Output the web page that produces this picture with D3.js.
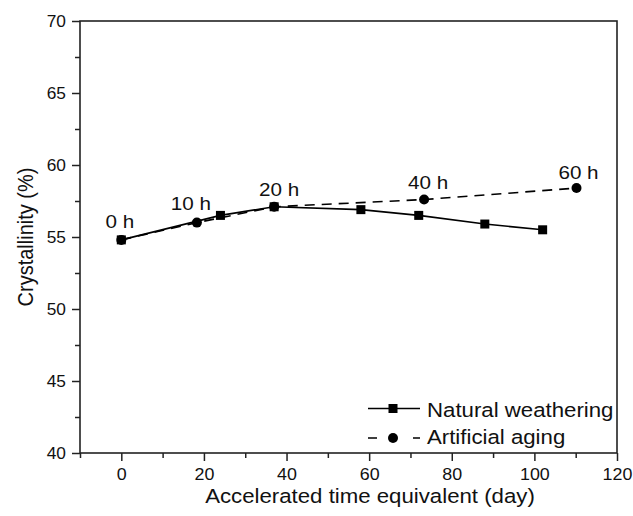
<!DOCTYPE html>
<html><head><meta charset="utf-8">
<script src="https://cdn.jsdelivr.net/npm/d3@7"></script>
<style>body{margin:0;background:#fff}svg{display:block}text{font-family:"Liberation Sans",Arial,sans-serif;fill:#111}</style>
</head><body><svg id="c" width="633" height="516"></svg>
<script>
const naturalX = [0, 24, 37, 58, 72, 88, 102];
const naturalY = [54.8, 56.5, 57.1, 56.9, 56.5, 55.9, 55.5];
const artificialX = [0, 18.3, 37, 73.3, 110.2];
const artificialY = [54.8, 56.0, 57.1, 57.6, 58.4];
const artificialLabels = ["0 h", "10 h", "20 h", "40 h", "60 h"];
const xTicks = [0, 20, 40, 60, 80, 100, 120];
const yTicks = [40, 45, 50, 55, 60, 65, 70];
const seriesNames = ["Natural weathering", "Artificial aging"];

const svg = d3.select("#c");
const L = 80, R = 617, T = 21, B = 453;
const x = d3.scaleLinear().domain([-10, 120]).range([L, R]);
const y = d3.scaleLinear().domain([40, 70]).range([B, T]);
const ink = "#222";

function stretch(sel, sx) {
  sel.each(function () {
    const t = d3.select(this);
    const ax = +t.attr("x") || 0, ay = +t.attr("y") || 0;
    t.attr("transform", `translate(${ax},${ay}) scale(${sx},1) translate(${-ax},${-ay})`);
  });
}

const xMinor = d3.range(-10, 121, 10).filter(v => v % 20 !== 0);
const yMinor = d3.range(42.5, 70, 5);

const xa = svg.append("g").attr("transform", `translate(0,${B})`)
  .call(d3.axisBottom(x).tickValues(xTicks).tickSize(8).tickPadding(7).tickFormat(d3.format("d")));
const xm = svg.append("g").attr("transform", `translate(0,${B})`)
  .call(d3.axisBottom(x).tickValues(xMinor).tickSize(5).tickFormat(""));
const ya = svg.append("g").attr("transform", `translate(${L},0)`)
  .call(d3.axisLeft(y).tickValues(yTicks).tickSize(8).tickPadding(6).tickFormat(d3.format("d")));
const ym = svg.append("g").attr("transform", `translate(${L},0)`)
  .call(d3.axisLeft(y).tickValues(yMinor).tickSize(5).tickFormat(""));
[xa, xm, ya, ym].forEach(g => {
  g.select(".domain").remove();
  g.selectAll("line").attr("stroke", ink).attr("stroke-width", 1.5);
});
xa.selectAll("text").style("font-size", "17px").attr("fill", "#111");
ya.selectAll("text").style("font-size", "16.5px").attr("fill", "#111");
stretch(xa.selectAll("text"), 1.05);
stretch(ya.selectAll("text"), 1.05);

svg.append("rect").attr("x", L).attr("y", T).attr("width", R - L).attr("height", B - T)
  .attr("fill", "none").attr("stroke", ink).attr("stroke-width", 1.6);

const xt = svg.append("text").attr("x", 370).attr("y", 503).attr("text-anchor", "middle")
  .style("font-size", "19.5px").text("Accelerated time equivalent (day)");
stretch(xt, 1.14);
svg.append("text").attr("transform", `translate(33,${(T + B) / 2}) rotate(-90) scale(1,1.12)`)
  .attr("text-anchor", "middle").style("font-size", "20px").text("Crystallinity (%)");

const nat = naturalX.map((d, i) => [d, naturalY[i]]);
const art = artificialX.map((d, i) => [d, artificialY[i]]);
const line = d3.line().x(d => x(d[0])).y(d => y(d[1]));

svg.append("path").datum(art).attr("d", line).attr("fill", "none")
  .attr("stroke", "#000").attr("stroke-width", 1.6).attr("stroke-dasharray", "10,7");
svg.selectAll(".c").data(art).join("circle").attr("cx", d => x(d[0])).attr("cy", d => y(d[1]))
  .attr("r", 5).attr("fill", "#000");

svg.append("path").datum(nat).attr("d", line).attr("fill", "none")
  .attr("stroke", "#000").attr("stroke-width", 1.6);
const s = 9;
svg.selectAll(".s").data(nat).join("rect").attr("x", d => x(d[0]) - s / 2).attr("y", d => y(d[1]) - s / 2)
  .attr("width", s).attr("height", s).attr("fill", "#000");

const labOff = [[-1.5, -12], [-6, -13], [5, -11], [4, -11], [2, -9]];
const labs = svg.selectAll(".lab").data(art).join("text")
  .attr("x", (d, i) => x(d[0]) + labOff[i][0]).attr("y", (d, i) => y(d[1]) + labOff[i][1])
  .attr("text-anchor", "middle").style("font-size", "17.5px")
  .text((d, i) => artificialLabels[i]);
stretch(labs, 1.18);

const lg = svg.append("g");
const ly = [408.5, 438];
lg.append("line").attr("x1", 368).attr("x2", 420).attr("y1", ly[0]).attr("y2", ly[0])
  .attr("stroke", "#000").attr("stroke-width", 1.6);
lg.append("rect").attr("x", 393 - s / 2).attr("y", ly[0] - s / 2).attr("width", s).attr("height", s).attr("fill", "#000");
lg.append("line").attr("x1", 368).attr("x2", 420).attr("y1", ly[1]).attr("y2", ly[1])
  .attr("stroke", "#000").attr("stroke-width", 1.6).attr("stroke-dasharray", "9,36,7");
lg.append("circle").attr("cx", 393).attr("cy", ly[1]).attr("r", 5).attr("fill", "#000");
const lt = lg.selectAll("text").data(seriesNames).join("text")
  .attr("x", 427).attr("y", (d, i) => [417, 444][i]).style("font-size", "19.5px").text(d => d);
stretch(lt, 1.14);
</script></body></html>
